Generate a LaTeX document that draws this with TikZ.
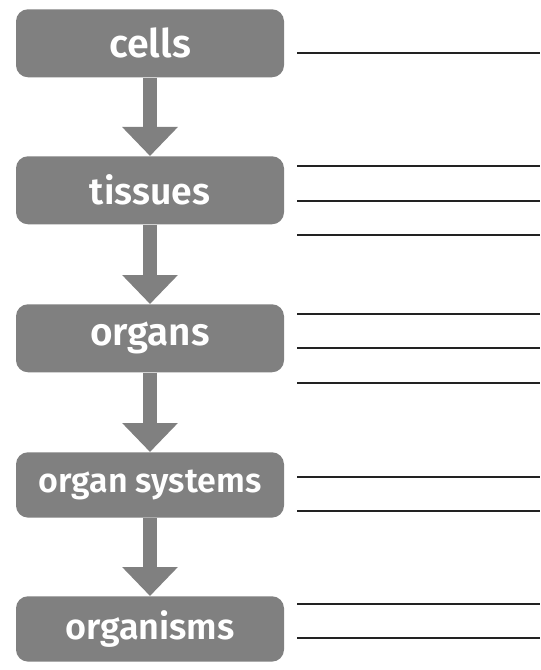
\documentclass[tikz,border=0pt]{standalone}
\usepackage{fontspec}
\setmainfont{Fira Sans}[UprightFont={* SemiBold}]
\usetikzlibrary{arrows.meta}
\definecolor{boxgray}{RGB}{128,128,128}
\definecolor{linedark}{RGB}{34,34,34}
\tikzset{
  levelbox/.style={fill=boxgray, rounded corners=9pt, minimum width=201pt, inner sep=0pt, text=white, anchor=north},
  flowarrow/.style={draw=boxgray, line width=10.5pt, -{Triangle[width=40.5pt,length=21.75pt,fill=boxgray]}, shorten >=0pt},
  answerline/.style={draw=linedark, line width=1.1pt}
}
\begin{document}
\begin{tikzpicture}[x=0.75pt,y=-0.75pt]
\useasboundingbox (0,0) rectangle (540,670);
\node[levelbox, minimum height=51pt, font=\fontsize{29.5pt}{32pt}\selectfont] (cells) at (150,9) {cells};
\node[levelbox, minimum height=51pt, font=\fontsize{28pt}{32pt}\selectfont] (tissues) at (150,156) {tissues};
\node[levelbox, minimum height=51pt, font=\fontsize{29pt}{32pt}\selectfont] (organs) at (150,304) {organs};
\node[levelbox, minimum height=49pt, font=\fontsize{25.5pt}{28pt}\selectfont] (systems) at (150,452) {organ systems};
\node[levelbox, minimum height=49pt, font=\fontsize{27pt}{30pt}\selectfont] (organisms) at (150,596) {organisms};
\draw[flowarrow] (cells.south) -- (tissues.north);
\draw[flowarrow] (tissues.south) -- (organs.north);
\draw[flowarrow] (organs.south) -- (systems.north);
\draw[flowarrow] (systems.south) -- (organisms.north);
\foreach \yy in {53,166,201,235,314,348,383,477,511,604,638}
  \draw[answerline] (297,\yy) -- (540,\yy);
\end{tikzpicture}
\end{document}
